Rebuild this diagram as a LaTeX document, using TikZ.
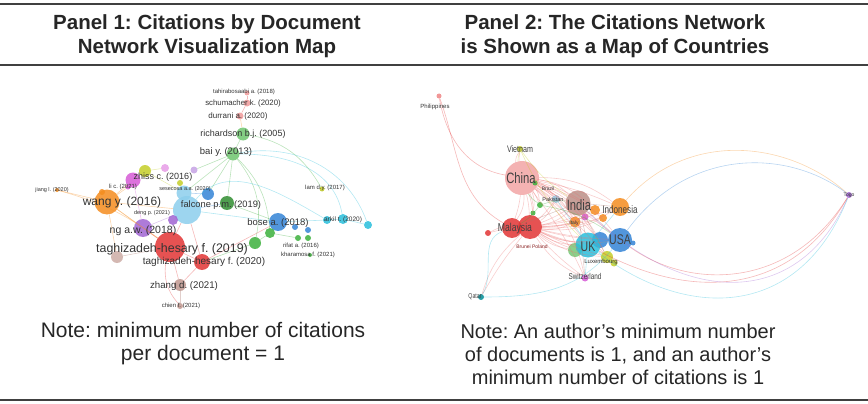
\documentclass[tikz,border=0pt]{standalone}
\usepackage{fontspec}
\setmainfont{Liberation Sans}
\newfontfamily\narrowfont[FakeStretch=0.75]{Liberation Sans}
\definecolor{vred}{RGB}{226,52,52}
\definecolor{vgreen}{RGB}{60,176,60}
\definecolor{vblue}{RGB}{52,132,214}
\definecolor{vyellow}{RGB}{196,206,40}
\definecolor{vpurple}{RGB}{160,100,210}
\definecolor{vcyan}{RGB}{40,190,220}
\definecolor{vlblue}{RGB}{140,206,236}
\definecolor{vorange}{RGB}{244,140,30}
\definecolor{vbrown}{RGB}{170,115,105}
\definecolor{vpink}{RGB}{214,90,214}
\definecolor{vteal}{RGB}{0,140,150}
\begin{document}
\frenchspacing
\begin{tikzpicture}[x=1pt,y=-1pt,
  bub/.style={circle, fill=#1, draw=none, inner sep=0pt, fill opacity=0.85},
  lab/.style={font=\fontsize{#1}{#1}\selectfont, text=black!80, inner sep=0.5pt},
  clab/.style={font=\narrowfont\fontsize{#1}{#1}\selectfont, text=black!75, inner sep=0.5pt},
  lnk/.style={draw=#1, line width=0.6pt, draw opacity=0.35},
  title/.style={font=\bfseries\fontsize{20.5}{24}\selectfont, align=center, text=black!85},
  note/.style={font=\fontsize{#1}{23}\selectfont, align=center, text=black!85}]
\useasboundingbox (0,0) rectangle (868,404);

% rules and texts
\draw[line width=1.6pt, black!75] (0,4) -- (868,4);
\draw[line width=1.6pt, black!75] (0,65) -- (868,65);
\draw[line width=1.6pt, black!75] (0,400) -- (868,400);
\node[title] (t1) at (207,36) {Panel 1: Citations by Document\\Network Visualization Map};
\node[title] (t2) at (615,36) {Panel 2: The Citations Network\\is Shown as a Map of Countries};
\node[note=21] (n1) at (203,344) {Note: minimum number of citations\\per document = 1};
\node[note=20] (n2) at (618,354) {Note: An author’s minimum number\\of documents is 1, and an author’s\\minimum number of citations is 1};

% panel 1: documents
\node[bub=vred!50, minimum size=5pt] (tabr) at (247,93) {};
\node[bub=vred!50, minimum size=7pt] (schu) at (247,103) {};
\node[bub=vred!50, minimum size=7pt] (durr) at (240,116) {};
\node[bub=vgreen!75, minimum size=13pt] (rich) at (243,134) {};
\node[bub=vgreen!75, minimum size=13pt] (bai) at (233,154) {};
\node[bub=vyellow, minimum size=5pt] (lam) at (322,189) {};
\node[bub=vpurple!60, minimum size=7pt] (pu1) at (194,170) {};
\node[bub=vpink!60, minimum size=8pt] (pi1) at (165,168) {};
\node[bub=vpink, minimum size=15pt] (zhi2) at (133,180) {};
\node[bub=vyellow, minimum size=12pt] (zhi1) at (145,171) {};
\node[bub=vyellow, minimum size=6pt] (ye1) at (180,183) {};
\node[bub=vpink, minimum size=5pt] (lic) at (128,187) {};
\node[bub=vorange, minimum size=4pt] (jiang) at (57,190) {};
\node[bub=vorange, minimum size=6pt] (or1) at (102,192) {};
\node[bub=vlblue, minimum size=15pt] (lb1) at (184,193) {};
\node[bub=vblue, minimum size=12pt] (sese) at (208,194) {};
\node[bub=vorange, minimum size=25pt] (wang) at (107,202) {};
\node[bub=vlblue, minimum size=28pt] (lb2) at (187,210) {};
\node[bub=vgreen!80!black, minimum size=14pt] (falc) at (227,203) {};
\node[bub=vpurple, minimum size=10pt] (pu2) at (173,220) {};
\node[bub=vpurple, minimum size=18pt] (ng) at (143,228) {};
\node[bub=vblue, minimum size=18pt] (bose) at (278,222) {};
\node[bub=vblue, minimum size=6pt] (bl1) at (295,227) {};
\node[bub=vblue, minimum size=6pt] (bl2) at (308,230) {};
\node[bub=vcyan, minimum size=8pt] (ark1) at (327,220) {};
\node[bub=vcyan, minimum size=10pt] (ark2) at (343,219) {};
\node[bub=vcyan, minimum size=8pt] (ark3) at (368,225) {};
\node[bub=vgreen, minimum size=10pt] (gr1) at (270,233) {};
\node[bub=vgreen, minimum size=12pt] (gr2) at (255,243) {};
\node[bub=vgreen, minimum size=6pt] (gr3) at (298,238) {};
\node[bub=vgreen, minimum size=6pt] (gr4) at (308,238) {};
\node[bub=vgreen, minimum size=4pt] (gr5) at (310,255) {};
\node[bub=vred, minimum size=30pt] (tg19) at (170,247) {};
\node[bub=vred, minimum size=16pt] (tg20) at (202,262) {};
\node[bub=vbrown!60, minimum size=12pt] (pb) at (117,257) {};
\node[bub=vbrown!75, minimum size=12pt] (zhang) at (180,285) {};
\node[bub=vbrown!75, minimum size=6pt] (chien) at (180,306) {};

\foreach \a/\b/\c in {wang/jiang/vorange, wang/lic/vorange, wang/tg19/vorange, wang/zhi2/vorange,
  wang/ng/vorange, wang/pb/vorange, tg19/tg20/vred, tg19/ng/vred, tg19/zhang/vred, zhang/chien/vbrown,
  tg19/lb2/vred, tg20/gr2/vgreen, bai/rich/vgreen, rich/durr/vorange, durr/schu/vred, schu/tabr/vred,
  bai/falc/vgreen, bai/sese/vgreen, bai/lb1/vgreen, falc/bose/vgreen, bose/gr1/vgreen, gr1/gr3/vgreen,
  bose/ark1/vcyan, ark1/ark2/vcyan, ark2/ark3/vcyan, lb2/bose/vcyan, zhi1/pi1/vyellow, lb2/tg20/vred,
  zhi2/ng/vpink, pu2/tg19/vpurple, lb2/falc/vblue, sese/lb1/vblue, tg20/zhang/vred, pb/tg19/vbrown,
  ng/lb2/vpurple, wang/lb2/vorange, zhi1/lb1/vyellow, gr2/gr1/vgreen, tg20/bose/vred, bai/pu1/vgreen}
  \draw[lnk=\c] (\a) -- (\b);
\draw[lnk=vgreen] (bai) to[bend left=20] (gr1);
\draw[lnk=vgreen] (bai) to[bend left=25] (gr2);
\draw[lnk=vcyan] (bai) to[out=0, in=100] (ark2);
\draw[lnk=vcyan] (bai) to[out=10, in=110] (ark3);
\draw[lnk=vgreen] (rich) to[out=-10, in=120] (lam);
\draw[lnk=vcyan] (lb2) to[out=50, in=150] (ark1);
\draw[lnk=vred] (tg19) to[bend right=25] (chien);
\draw[lnk=vorange] (jiang) to[bend left=10] (tg19);

\node[lab=6] (tabrt) at (244,92) {tahirabosaabi a. (2018)};
\node[lab=7.8] (schut) at (243,103) {schumacher k. (2020)};
\node[lab=8] (durrt) at (238,116) {durrani a. (2020)};
\node[lab=9] (richt) at (243,134) {richardson b.j. (2005)};
\node[lab=9.5] (bait) at (226,152) {bai y. (2013)};
\node[lab=6] (lamt) at (325,188) {lam d.y. (2017)};
\node[lab=9] (zhit) at (163,177) {zhiss c. (2016)};
\node[lab=6] (lict) at (123,187) {li c. (2021)};
\node[lab=5.5] (jiangt) at (52,190) {jiang l. (2020)};
\node[lab=5.5] (seset) at (185,189) {sesecosa a.a. (2020)};
\node[lab=12] (wangt) at (122,202) {wang y. (2016)};
\node[lab=9.3] (falct) at (221,205) {falcone p.m. (2019)};
\node[lab=5.5] (dengt) at (152,213) {deng p. (2021)};
\node[lab=10.5] (ngt) at (143,231) {ng a.w. (2018)};
\node[lab=9.5] (boset) at (278,223) {bose a. (2018)};
\node[lab=6.5] (arkt) at (343,220) {arkil t. (2020)};
\node[lab=6] (rift) at (301,246) {rifat a. (2016)};
\node[lab=6] (khat) at (308,255) {kharamosa f. (2021)};
\node[lab=12.4] (tg19t) at (172,249) {taghizadeh-hesary f. (2019)};
\node[lab=10] (tg20t) at (204,262) {taghizadeh-hesary f. (2020)};
\node[lab=9.7] (zhangt) at (184,286) {zhang d. (2021)};
\node[lab=6] (chient) at (181,306) {chien f. (2021)};

% panel 2: countries
\node[bub=vred!60, minimum size=5pt] (phil) at (439,96) {};
\node[bub=vyellow, minimum size=6pt] (viet) at (520,149) {};
\node[bub=vred!45, minimum size=34pt] (china) at (522,178) {};
\node[bub=vgreen, minimum size=5pt] (braz) at (535,183) {};
\node[bub=vlblue, minimum size=8pt] (pak) at (556,199) {};
\node[bub=vgreen, minimum size=6pt] (gr6) at (540,205) {};
\node[bub=vgreen, minimum size=5pt] (gr7) at (533,213) {};
\node[bub=vbrown!80, minimum size=25pt] (india) at (578,203) {};
\node[bub=vorange, minimum size=18pt] (indo) at (620,207) {};
\node[bub=vorange, minimum size=10pt] (or2) at (595,210) {};
\node[bub=vorange, minimum size=8pt] (or3) at (603,218) {};
\node[bub=vorange, minimum size=11pt] (italy) at (575,222) {};
\node[bub=vpink, minimum size=7pt] (pi2) at (585,217) {};
\node[bub=vred, minimum size=20pt] (mal2) at (512,228) {};
\node[bub=vred, minimum size=24pt] (mal1) at (530,227) {};
\node[bub=vred, minimum size=6pt] (mal3) at (488,233) {};
\node[bub=vgreen!70, minimum size=14pt] (gr8) at (575,250) {};
\node[bub=vblue, minimum size=16pt] (bl3) at (600,240) {};
\node[bub=vcyan, minimum size=25pt] (uk) at (588,245) {};
\node[bub=vblue, minimum size=24pt] (usa) at (620,240) {};
\node[bub=vblue, minimum size=5pt] (bl4) at (633,243) {};
\node[bub=vyellow, minimum size=12pt] (lux) at (607,257) {};
\node[bub=vyellow, minimum size=7pt] (ye2) at (614,263) {};
\node[bub=vpink, minimum size=7pt] (swiss) at (585,278) {};
\node[bub=vteal, minimum size=6pt] (qatar) at (481,297) {};
\node[bub=vpurple, minimum size=6pt] (togo) at (849,195) {};

\foreach \a in {viet,braz,pak,gr6,gr7,india,indo,italy,mal1,mal2,uk,usa,lux,swiss,or2,bl3}
  \foreach \b in {6,18}
    \draw[lnk=vred!70] (china) to[bend left=\b] (\a);
\foreach \a in {india,indo,or2,or3,italy,uk,usa,gr8,lux,swiss,qatar,mal3,pak,bl3}
  \foreach \b in {5,16}
    \draw[lnk=vred!70] (mal1) to[bend right=\b] (\a);
\foreach \a in {uk,usa,indo,or2,italy,lux,swiss,mal2}
  \draw[lnk=vbrown] (india) -- (\a);
\foreach \a in {usa,lux,swiss,gr8,indo,pak}
  \draw[lnk=vcyan] (uk) -- (\a);
\foreach \a in {china,mal2,india,usa}
  \draw[lnk=vgreen] (gr6) to[bend left=12] (\a);
\foreach \a in {china,india,uk}
  \draw[lnk=vyellow] (viet) to[bend right=10] (\a);
\draw[lnk=vred] (china) to[out=170, in=-80] (phil);
\draw[lnk=vred] (mal2) to[out=150, in=-70] (phil);
\draw[lnk=vcyan] (qatar) to[out=0, in=230] (usa);
\draw[lnk=vcyan] (qatar) to[out=60, in=200] (mal2);
\draw[lnk=vorange] (indo) .. controls (690,128) and (790,142) .. (togo);
\draw[lnk=vblue] (usa) .. controls (690,145) and (790,150) .. (togo);
\draw[lnk=vred] (usa) .. controls (690,290) and (790,290) .. (togo);
\draw[lnk=vred] (uk) .. controls (690,300) and (790,298) .. (togo);
\draw[lnk=vpurple] (india) .. controls (690,310) and (800,306) .. (togo);
\draw[lnk=vcyan] (uk) .. controls (690,322) and (800,318) .. (togo);

\node[lab=6] (philt) at (435,107) {Philippines};
\node[clab=9.5] (viett) at (520,149) {Vietnam};
\node[clab=15] (chinat) at (521,178) {China};
\node[lab=5] (brazt) at (548,189) {Brazil};
\node[lab=5.5] (pakt) at (553,200) {Pakistan};
\node[clab=15] (indiat) at (579,205) {India};
\node[clab=10.8] (indot) at (620,210) {Indonesia};
\node[lab=5] (italyt) at (574,223) {Italy};
\node[clab=11.5] (malt) at (515,229) {Malaysia};
\node[lab=5, text=vred!60!black] (polt) at (532,247) {Brunei Poland};
\node[clab=14] (ukt) at (588,247) {UK};
\node[clab=14] (usat) at (620,240) {USA};
\node[lab=6] (luxt) at (601,262) {Luxembourg};
\node[clab=8.5] (swisst) at (585,276) {Switzerland};
\node[clab=7] (qatart) at (475,297) {Qatar};
\node[lab=5] (togot) at (849,195) {Togo};
\end{tikzpicture}
\end{document}
